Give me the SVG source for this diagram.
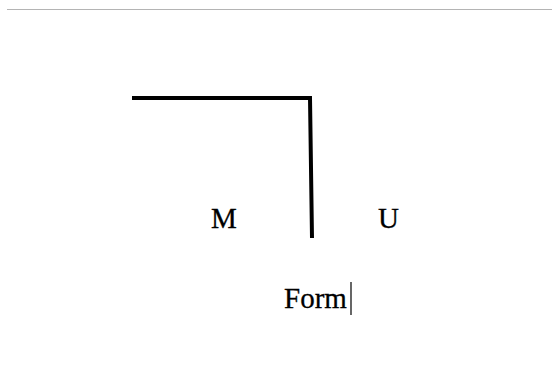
<svg xmlns="http://www.w3.org/2000/svg" width="552" height="387" viewBox="0 0 552 387">
<style>
.t{font-family:"Liberation Serif","Times New Roman",serif;font-size:29px;fill:#000;stroke:#000;stroke-width:0.3}
.ln{stroke:#000;stroke-width:4;fill:none}
</style>
<rect width="552" height="387" fill="#fff"/>
<line x1="7" y1="9.5" x2="552" y2="9.5" stroke="#b4b4b4" stroke-width="1"/>
<g id="connectors">
<polyline class="ln" points="132,98 310,98 312,238"/>
</g>
<g id="M"><text class="t" x="211" y="228">M</text></g>
<g id="U"><text class="t" x="378" y="228">U</text></g>
<g id="Form"><text class="t" x="284" y="308">Form</text>
<line x1="351" y1="282" x2="351" y2="315" stroke="#000" stroke-width="1.2"/></g>
</svg>
